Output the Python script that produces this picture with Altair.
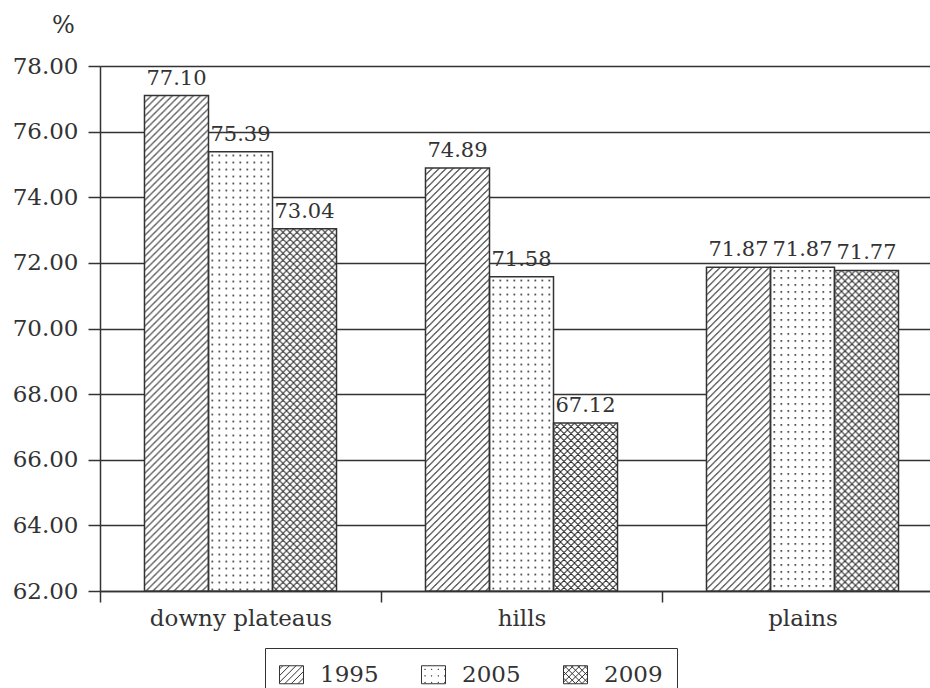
import base64
import altair as alt
import pandas as pd

# ---------------- data ----------------
categories = ["downy plateaus", "hills", "plains"]
years = ["1995", "2005", "2009"]
values_1995 = [77.10, 74.89, 71.87]
values_2005 = [75.39, 71.58, 71.87]
values_2009 = [73.04, 67.12, 71.77]
y_ticks = [62, 64, 66, 68, 70, 72, 74, 76, 78]

# ---------------- styles ----------------
INK = "#333333"
PAT = "#2a2a2a"
FONT = "DejaVu Serif"
FS = 23


def svg_uri(body):
    svg = ("<svg xmlns='http://www.w3.org/2000/svg' width='100%' height='100%'>"
           "<defs><pattern id='p' x='0' y='0' width='7' height='7' patternUnits='userSpaceOnUse'>"
           + body + "</pattern></defs>"
           "<rect width='100%' height='100%' fill='white'/>"
           "<rect width='100%' height='100%' fill='url(#p)'/></svg>")
    return "data:image/svg+xml;base64," + base64.b64encode(svg.encode()).decode()


hatch = f"<path d='M0,7L7,0M-1,1L1,-1M6,8L8,6' stroke='{PAT}' stroke-width='1' fill='none'/>"
dots = f"<rect x='3' y='3' width='1.6' height='1.6' fill='{PAT}'/>"
cross = ("<path d='M0,7L7,0M-1,1L1,-1M6,8L8,6M0,0L7,7M-1,6L1,8M6,-1L8,1' "
         f"stroke='{PAT}' stroke-width='1' fill='none'/>")
pattern_uri = {"1995": svg_uri(hatch), "2005": svg_uri(dots), "2009": svg_uri(cross)}

# legend swatch paths (unit box -1..1)
HW, HH, SP = 1.0, 0.75, 0.55


def f(v):
    return f"{v:.3f}"


def rect_path():
    return f"M{f(-HW)},{f(-HH)}H{f(HW)}V{f(HH)}H{f(-HW)}Z"


def lines(kind):
    segs = []
    c = -(HW + HH) + SP / 2
    while c < HW + HH:
        if kind == "/":
            x0, x1 = max(-HW, c - HH), min(HW, c + HH)
            if x1 - x0 > 1e-6:
                segs.append(f"M{f(x0)},{f(-x0 + c)}L{f(x1)},{f(-x1 + c)}")
        else:
            x0, x1 = max(-HW, -HH - c), min(HW, HH - c)
            if x1 - x0 > 1e-6:
                segs.append(f"M{f(x0)},{f(x0 + c)}L{f(x1)},{f(x1 + c)}")
        c += SP
    return "".join(segs)


def dot_path():
    segs = []
    x = -HW + SP / 2
    while x < HW:
        y = -HH + SP / 2
        while y < HH:
            segs.append(f"M{f(x)},{f(y)}h0.04v0.04h-0.04Z")
            y += SP
        x += SP
    return "".join(segs)


shape_1995 = rect_path() + lines("/")
shape_2005 = rect_path() + dot_path()
shape_2009 = rect_path() + lines("/") + lines("\\")
shape_expr = (f"datum.value === '1995' ? '{shape_1995}' : "
              f"(datum.value === '2005' ? '{shape_2005}' : '{shape_2009}')")

rows = []
for i, c in enumerate(categories):
    for yr, vals in zip(years, [values_1995, values_2005, values_2009]):
        rows.append({"category": c, "year": yr, "value": vals[i], "pattern": pattern_uri[yr]})
df = pd.DataFrame(rows)

x_enc = alt.X(
    "category:N", sort=categories,
    scale=alt.Scale(range=[0, 843], paddingInner=0, paddingOuter=0),
    axis=alt.Axis(title=None, labelAngle=0, tickBand="extent", tickSize=11, labelPadding=5,
                  labelLimit=400,
                  domainColor=INK, domainWidth=1.5, tickColor=INK, tickWidth=1.5,
                  labelFont=FONT, labelFontSize=FS, labelColor=INK, grid=False),
)
xoff = alt.XOffset("year:N", sort=years, scale=alt.Scale(paddingInner=0, paddingOuter=0.695))
y_enc = alt.Y(
    "value:Q",
    scale=alt.Scale(domain=[62, 78], nice=False, zero=False),
    axis=alt.Axis(values=y_ticks, format=".2f", title="%", titleAngle=0, titleX=-37, titleY=-41,
                  titleAlign="center", titleBaseline="middle", titleFont=FONT, titleFontSize=24,
                  titleFontWeight="normal", titleColor=INK,
                  tickSize=12, labelPadding=10, labelFont=FONT, labelFontSize=FS, labelColor=INK,
                  grid=True, gridColor=INK, gridWidth=1.5, gridOpacity=1,
                  domainColor=INK, domainWidth=1.5, tickColor=INK, tickWidth=1.5),
)

legend = alt.Legend(
    title=None, orient="none", legendX=165, legendY=582, direction="horizontal",
    symbolSize=576, symbolStrokeWidth=1, symbolFillColor="transparent", symbolStrokeColor=INK,
    symbolOpacity=1, symbolType=alt.ExprRef(expr=shape_expr),
    labelFont=FONT, labelFontSize=FS, labelColor=INK, labelOffset=16, columnPadding=40,
    padding=14, strokeColor=INK,
)

base = alt.Chart(df)

images = base.mark_image(aspect=False).encode(
    x=x_enc, xOffset=xoff, y=y_enc, y2=alt.datum(62), url=alt.Url("pattern:N")
)

outlines = base.mark_bar(fill="transparent", strokeWidth=1.5).encode(
    x=x_enc, xOffset=xoff, y=y_enc, y2=alt.datum(62),
    stroke=alt.Stroke("year:N", sort=years,
                      scale=alt.Scale(domain=years, range=[INK, INK, INK]), legend=legend),
)

labels = base.mark_text(baseline="bottom", dy=-7, font=FONT, fontSize=21, color=INK).encode(
    x=x_enc, xOffset=xoff, y=y_enc, text=alt.Text("value:Q", format=".2f")
)

chart = (
    alt.layer(images, outlines, labels)
    .properties(width=830, height=525,
                autosize=alt.AutoSizeParams(type="none"),
                padding={"left": 100, "top": 66, "right": 0, "bottom": 97},
                background="white")
    .configure_view(strokeWidth=0)
)

chart.save("out.html", embed_options={"renderer": "svg", "actions": False})
